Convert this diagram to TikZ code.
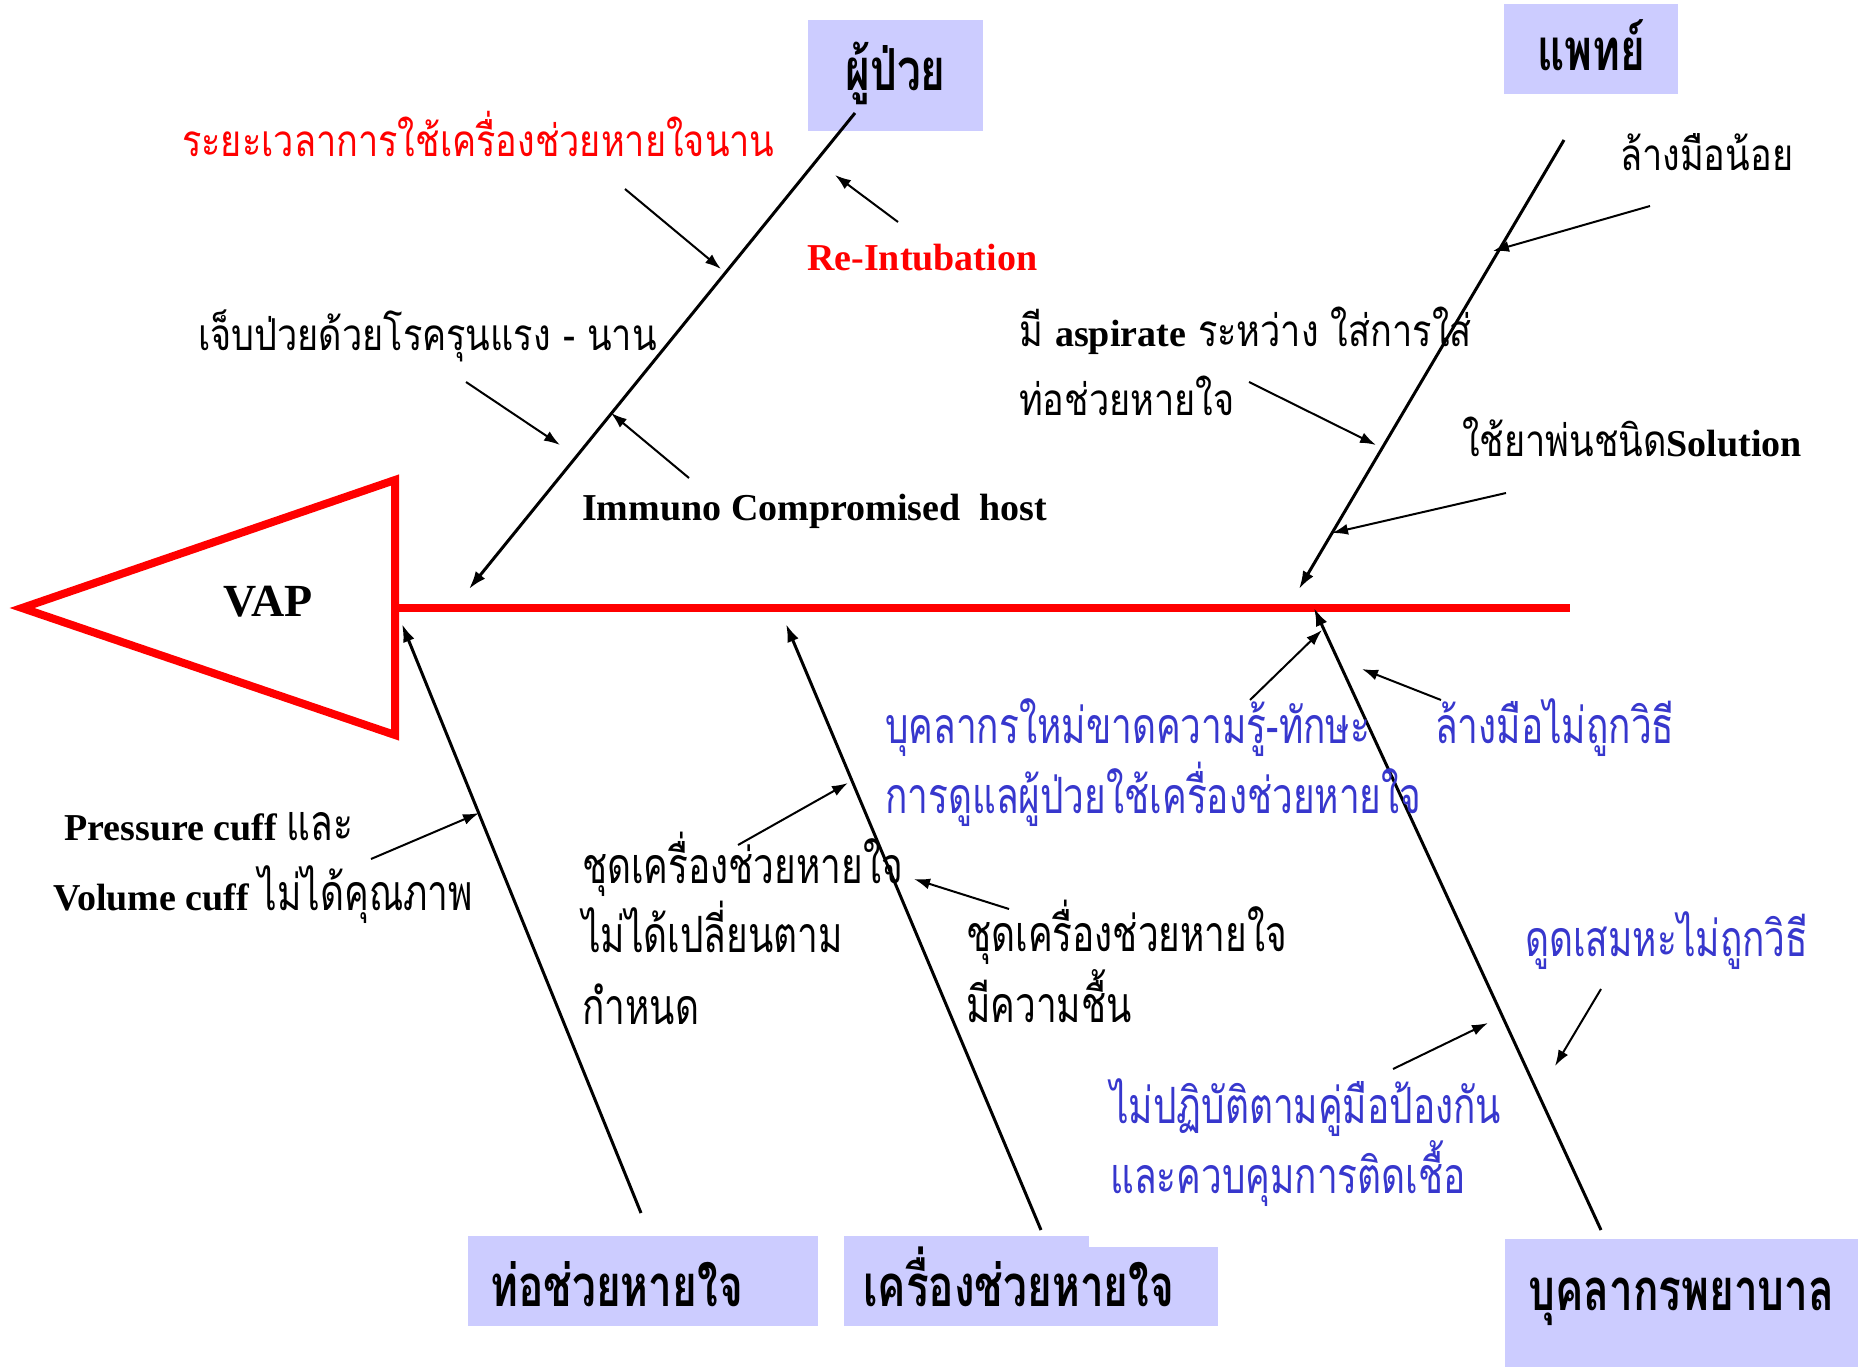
\documentclass[tikz,border=0pt]{standalone}
\usepackage{fontspec}
\setmainfont{Liberation Serif}
\newfontfamily\thaiS[Script=Thai,FakeStretch=0.82]{Loma}
\newfontfamily\thaiM[Script=Thai,FakeStretch=0.74]{Loma}
\newfontfamily\thaiB[Script=Thai,FakeStretch=0.73]{Loma}
\usetikzlibrary{arrows.meta}
\definecolor{boxfill}{RGB}{204,204,255}
\definecolor{tblue}{RGB}{55,55,205}
\definecolor{fred}{RGB}{255,0,0}
\newcommand{\latb}[1]{{\rmfamily\bfseries\fontsize{38}{44}\selectfont #1}}
\begin{document}
\begin{tikzpicture}[x=1pt,y=-1pt,
  bone/.style={line width=3pt,-{Latex[length=18pt,width=12pt]}},
  cause/.style={line width=2pt,-{Latex[length=16pt,width=11pt]}},
  catbox/.style={fill=boxfill,draw=none,inner sep=0pt},
  lbl/.style={anchor=base west,inner sep=0pt},
  thS/.style={font=\thaiS\fontsize{44}{50}\selectfont},
  thM/.style={font=\thaiM\fontsize{50}{56}\selectfont},
  thB/.style={font=\thaiB\bfseries\fontsize{58}{64}\selectfont},
  latB/.style={font=\bfseries\fontsize{38}{44}\selectfont},
]
\useasboundingbox (0,0) rectangle (1858,1367);

% boxes
\node[catbox,minimum width=175pt,minimum height=111pt] (boxPat) at (895.5,75.5) {};
\node[lbl,thB,anchor=base] (txtPat) at (895.5,91) {ผู้ป่วย};
\node[catbox,minimum width=174pt,minimum height=90pt] (boxDoc) at (1591,49) {};
\node[lbl,thB,anchor=base] (txtDoc) at (1591,71) {แพทย์};
\node[catbox,minimum width=350pt,minimum height=90pt] (boxTube) at (643,1281) {};
\node[lbl,thB] (txtTube) at (490,1306) {ท่อช่วยหายใจ};
\node[catbox,minimum width=245pt,minimum height=90pt] (boxVentA) at (966.5,1281) {};
\node[catbox,minimum width=129pt,minimum height=79pt] (boxVentB) at (1153.5,1286.5) {};
\node[lbl,thB] (txtVent) at (863,1306) {เครื่องช่วยหายใจ};
\node[catbox,minimum width=353pt,minimum height=128pt] (boxNurse) at (1681.5,1303) {};
\node[lbl,thB] (txtNurse) at (1528,1310) {บุคลากรพยาบาล};

% head and spine
\coordinate (tip) at (22,608);
\coordinate (headT) at (395,480);
\coordinate (headB) at (395,735);
\coordinate (spineL) at (395,608);
\coordinate (spineR) at (1570,608);
\draw[fred,line width=8pt,line join=miter] (tip) -- (headT) -- (headB) -- cycle;
\draw[fred,line width=8pt] (spineL) -- (spineR);
\node[font=\bfseries\fontsize{46}{50}\selectfont] (vap) at (268,602) {VAP};

% bones
\coordinate (b1s) at (855,113); \coordinate (b1e) at (469,589);
\coordinate (b2s) at (1564,140); \coordinate (b2e) at (1299,589);
\coordinate (b3s) at (641,1213); \coordinate (b3e) at (402,624);
\coordinate (b4s) at (1041,1230); \coordinate (b4e) at (786,624);
\coordinate (b5s) at (1601,1230); \coordinate (b5e) at (1314,608);
\draw[bone] (b1s) -- (b1e);
\draw[bone] (b2s) -- (b2e);
\draw[bone] (b3s) -- (b3e);
\draw[bone] (b4s) -- (b4e);
\draw[bone] (b5s) -- (b5e);

% texts
\node[lbl,thS,text=fred] (t1) at (182,157) {ระยะเวลาการใช้เครื่องช่วยหายใจนาน};
\node[lbl,latB,text=fred] (t2) at (807,270) {Re-Intubation};
\node[lbl,thS] (t3) at (198,350) {เจ็บป่วยด้วยโรครุนแรง - นาน};
\node[lbl,latB] (t4) at (582,520) {Immuno Compromised\ \ host};
\node[lbl,thS] (t5) at (1019,346) {มี \latb{aspirate} ระหว่าง ใส่การใส่};
\node[lbl,thS] (t6) at (1019,415) {ท่อช่วยหายใจ};
\node[lbl,thS] (t7) at (1620,171) {ล้างมือน้อย};
\node[lbl,thS] (t8) at (1462,456) {ใช้ยาพ่นชนิด\latb{Solution}};
\node[lbl,latB] (t9) at (64,840) {Pressure cuff {\thaiM\mdseries\fontsize{50}{56}\selectfont และ}};
\node[lbl,latB] (t10) at (53,910) {Volume cuff {\thaiM\mdseries\fontsize{50}{56}\selectfont ไม่ได้คุณภาพ}};
\node[lbl,thM] (t11a) at (582,883) {ชุดเครื่องช่วยหายใจ};
\node[lbl,thM] (t11b) at (582,952) {ไม่ได้เปลี่ยนตาม};
\node[lbl,thM] (t11c) at (582,1024) {กำหนด};
\node[lbl,thM] (t12a) at (966,951) {ชุดเครื่องช่วยหายใจ};
\node[lbl,thM] (t12b) at (966,1022) {มีความชื้น};
\node[lbl,thM,text=tblue] (t13a) at (885,743) {บุคลากรใหม่ขาดความรู้-ทักษะ};
\node[lbl,thM,text=tblue] (t13b) at (885,813) {การดูแลผู้ป่วยใช้เครื่องช่วยหายใจ};
\node[lbl,thM,text=tblue] (t14) at (1435,743) {ล้างมือไม่ถูกวิธี};
\node[lbl,thM,text=tblue] (t15) at (1525,956) {ดูดเสมหะไม่ถูกวิธี};
\node[lbl,thM,text=tblue] (t16a) at (1110,1123) {ไม่ปฏิบัติตามคู่มือป้องกัน};
\node[lbl,thM,text=tblue] (t16b) at (1110,1193) {และควบคุมการติดเชื้อ};

% cause arrows
\coordinate (a1s) at (625,189); \coordinate (a1e) at (721,269);
\coordinate (a2s) at (898,222); \coordinate (a2e) at (835,175);
\coordinate (a3s) at (466,382); \coordinate (a3e) at (560,445);
\coordinate (a4s) at (689,478); \coordinate (a4e) at (611,413);
\coordinate (c5s) at (1650,206); \coordinate (c5e) at (1493,251);
\coordinate (c6s) at (1249,382); \coordinate (c6e) at (1376,445);
\coordinate (c7s) at (1506,493); \coordinate (c7e) at (1332,533);
\coordinate (d1s) at (371,859); \coordinate (d1e) at (479,813);
\coordinate (d2s) at (738,845); \coordinate (d2e) at (848,783);
\coordinate (d3s) at (1009,909); \coordinate (d3e) at (914,879);
\coordinate (e1s) at (1250,700); \coordinate (e1e) at (1322,630);
\coordinate (e2s) at (1441,700); \coordinate (e2e) at (1362,669);
\coordinate (e3s) at (1393,1069); \coordinate (e3e) at (1488,1023);
\coordinate (e4s) at (1601,989); \coordinate (e4e) at (1555,1066);
\foreach \p in {a1,a2,a3,a4,c5,c6,c7,d1,d2,d3,e1,e2,e3,e4}
  \draw[cause] (\p s) -- (\p e);
\end{tikzpicture}
\end{document}
